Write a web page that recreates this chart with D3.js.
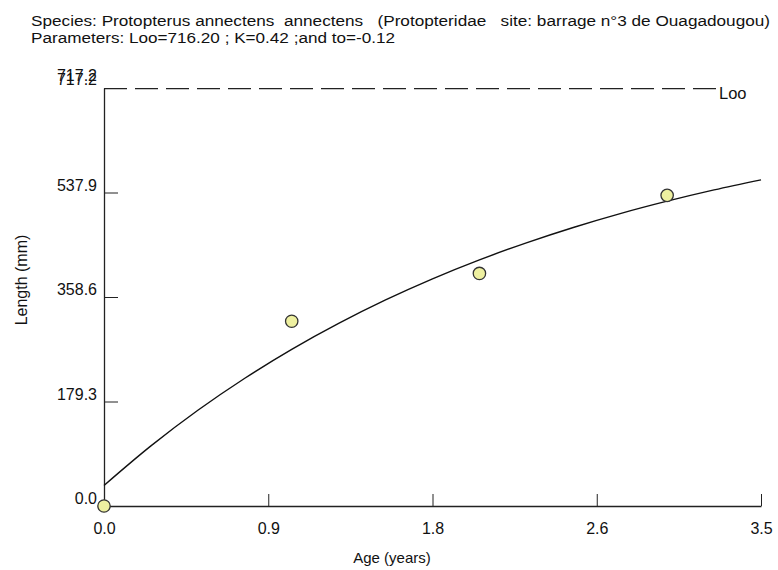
<!DOCTYPE html>
<html>
<head>
<meta charset="utf-8">
<script src="https://cdn.jsdelivr.net/npm/d3@7"></script>
<style>
  html, body { margin: 0; padding: 0; background: #fff; }
  svg { display: block; }
  text { font-family: "Liberation Sans", Arial, sans-serif; fill: #111; }
  .title { white-space: pre; }
</style>
</head>
<body>
<svg id="chart" width="778" height="570"></svg>
<script>
// Growth parameters (von Bertalanffy)
const Linf = 716.2;
const K = 0.42;
const t0 = -0.12;

// Observed mean length at age
const obsAge = [0, 1, 2, 3];
const obsLength = [0, 317, 399, 533];

// Fitted growth curve, sampled along the age axis
const curveAge = [0, 0.25, 0.5, 0.75, 1, 1.25, 1.5, 1.75, 2, 2.25, 2.5, 2.75, 3, 3.25, 3.5];
const curveLength = [35.2, 103.1, 164.2, 219.2, 268.8, 313.3, 353.5, 389.7, 422.2, 451.5, 477.9, 501.7, 523.0, 542.3, 559.6];

// Axis ticks
const xTicks = [0, 0.875, 1.75, 2.625, 3.5];
const xTickLabels = ["0.0", "0.9", "1.8", "2.6", "3.5"];
const yTicks = [0, 179.3, 358.6, 537.9, 717.2];
const yTickLabels = ["0.0", "179.3", "358.6", "537.9", "717.2"];

const titleLines = [
  "Species: Protopterus annectens  annectens   (Protopteridae   site: barrage n°3 de Ouagadougou)",
  "Parameters: Loo=716.20 ; K=0.42 ;and to=-0.12"
];
const titleWidths = [739, 364];

const svg = d3.select("#chart");
const x = d3.scaleLinear().domain([0, 3.5]).range([104, 761]);
const y = d3.scaleLinear().domain([0, 717.2]).range([506, 88]);

// Title
svg.selectAll("text.title")
  .data(titleLines)
  .join("text")
  .attr("class", "title")
  .attr("xml:space", "preserve")
  .attr("x", 31)
  .attr("y", (d, i) => 26 + i * 17)
  .attr("textLength", (d, i) => titleWidths[i])
  .attr("lengthAdjust", "spacingAndGlyphs")
  .style("font-size", "15.2px")
  .text(d => d);

// X axis (ticks drawn inward)
const xAxis = d3.axisBottom(x)
  .tickValues(xTicks)
  .tickFormat((d, i) => xTickLabels[i])
  .tickSizeInner(-12)
  .tickSizeOuter(0)
  .tickPadding(16);
const gx = svg.append("g").attr("transform", `translate(0,${y(0)})`).call(xAxis);
gx.select(".domain").attr("stroke", "#222").attr("stroke-width", 1.3);
gx.selectAll(".tick line").attr("stroke", "#222");
gx.selectAll(".tick text")
  .attr("y", 28).attr("dy", 0)
  .style("font-size", "16px").style("font-family", "'Liberation Sans', Arial, sans-serif")
  .attr("fill", "#111");

// Y axis (ticks drawn inward)
const yAxis = d3.axisLeft(y)
  .tickValues(yTicks)
  .tickFormat((d, i) => yTickLabels[i])
  .tickSizeInner(-14)
  .tickSizeOuter(0)
  .tickPadding(7);
const gy = svg.append("g").attr("transform", `translate(${x(0)},0)`).call(yAxis);
gy.select(".domain").attr("stroke", "#222").attr("stroke-width", 1.3);
gy.selectAll(".tick line").attr("stroke", "#222");
gy.selectAll(".tick text")
  .attr("x", -7).attr("dy", "-0.15em")
  .style("font-size", "16px").style("font-family", "'Liberation Sans', Arial, sans-serif")
  .attr("fill", "#111");
// top label is printed twice (axis maximum and Loo), the copies slightly offset
gy.selectAll(".tick").filter(d => d === 717.2).select("text")
  .attr("dy", "-0.25em")
  .style("text-shadow", "0 -3.5px 0 #111");

// Axis titles
svg.append("text")
  .attr("transform", "translate(27,280) rotate(-90)")
  .attr("text-anchor", "middle")
  .style("font-size", "16px")
  .text("Length (mm)");
svg.append("text")
  .attr("x", 392).attr("y", 563)
  .attr("text-anchor", "middle")
  .style("font-size", "15px")
  .text("Age (years)");

// Asymptotic length line
svg.append("line")
  .attr("x1", x(0)).attr("x2", 718)
  .attr("y1", y(Linf)).attr("y2", y(Linf))
  .attr("stroke", "#222").attr("stroke-width", 1.2)
  .attr("stroke-dasharray", "23,8");
svg.append("text")
  .attr("x", 719).attr("y", y(Linf) + 10)
  .style("font-size", "16.5px")
  .text("Loo");

// Growth curve
const line = d3.line()
  .x((d, i) => x(curveAge[i]))
  .y(d => y(d))
  .curve(d3.curveCatmullRom);
svg.append("path")
  .datum(curveLength)
  .attr("d", line)
  .attr("fill", "none")
  .attr("stroke", "#111")
  .attr("stroke-width", 1.4);

// Observations
svg.selectAll("circle.obs")
  .data(obsLength)
  .join("circle")
  .attr("class", "obs")
  .attr("cx", (d, i) => x(obsAge[i]))
  .attr("cy", d => y(d))
  .attr("r", 6.2)
  .attr("fill", "#eef0a0")
  .attr("stroke", "#333")
  .attr("stroke-width", 1.3);
</script>
</body>
</html>
